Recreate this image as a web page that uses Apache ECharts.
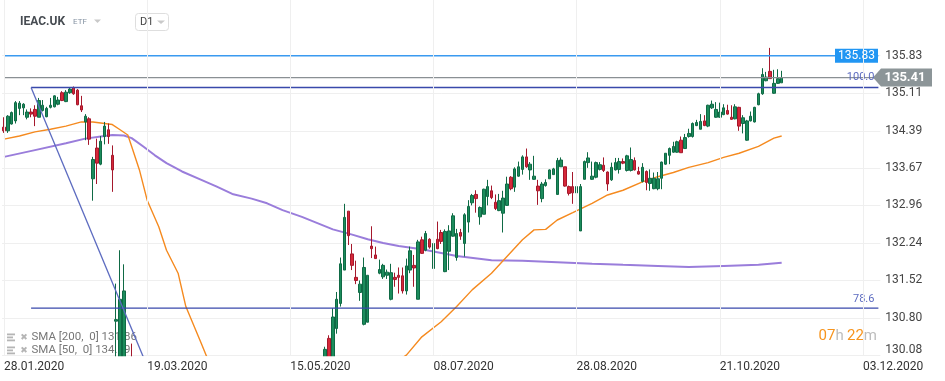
<!DOCTYPE html>
<html><head><meta charset="utf-8">
<script src="https://cdn.jsdelivr.net/npm/echarts@6/dist/echarts.min.js"></script>
<style>html,body{margin:0;padding:0;background:#fff;}#c{width:945px;height:381px;}</style>
</head><body><div id="c"></div>
<script>
// ---- data ----
const tickLabels = ['28.01.2020','19.03.2020','15.05.2020','08.07.2020','28.08.2020','21.10.2020','03.12.2020'];
const barsPerTick = 37;
const barSlots = 227;
const priceTicks = [130.08,130.80,131.52,132.24,132.96,133.67,134.39,135.11,135.83];
// [open, high, low, close]
const ohlc = [
[134.46,134.65,134.35,134.39],[134.39,134.69,134.35,134.67],[134.52,134.76,134.51,134.74],[134.58,134.96,134.53,134.93],
[134.82,134.96,134.69,134.92],[134.83,134.92,134.69,134.90],[134.65,134.80,134.61,134.75],[134.75,134.82,134.65,134.71],
[134.80,134.88,134.48,134.67],[134.65,135.02,134.65,134.97],[134.78,134.98,134.76,134.88],[134.66,134.85,134.65,134.82],
[134.84,135.02,134.82,134.88],[134.85,135.07,134.84,135.06],[134.90,135.04,134.88,134.98],[135.12,135.15,134.96,134.97],
[134.95,135.17,134.94,135.13],[135.12,135.21,135.10,135.19],[135.22,135.24,135.08,135.10],[135.17,135.19,134.88,134.89],
[134.87,135.06,134.75,134.79],[134.56,134.71,134.21,134.67],[134.62,134.65,134.12,134.23],[133.47,133.89,133.05,133.84],
[134.06,134.24,133.37,133.77],[133.75,134.29,133.73,134.19],[134.28,134.56,134.13,134.48],[134.41,134.53,134.14,134.28],
[133.92,134.11,133.22,133.64],[130.74,131.46,129.00,130.77],[129.10,132.10,128.80,131.16],[129.30,131.83,128.90,131.32],
[129.60,129.90,127.80,128.20],[129.40,130.31,126.50,127.00],[127.00,127.80,125.00,125.60],[125.60,126.20,123.50,124.00],
[124.00,124.60,121.80,122.50],[122.50,123.60,121.20,123.00],[123.00,124.20,122.40,123.80],[123.80,125.00,123.20,124.60],
[124.60,125.60,124.00,125.20],[125.20,125.90,124.50,124.90],[124.90,126.00,124.60,125.70],[125.70,126.40,125.20,126.10],
[126.10,126.60,125.50,125.80],[125.80,126.90,125.60,126.60],[126.60,127.20,126.20,126.90],[126.90,127.40,126.50,127.10],
[127.10,127.60,126.80,127.40],[127.40,127.80,126.90,127.20],[127.20,127.90,127.00,127.70],[127.70,128.20,127.40,128.00],
[128.00,128.40,127.70,127.90],[127.90,128.50,127.60,128.30],[128.30,128.80,128.00,128.60],[128.60,128.90,128.20,128.40],
[128.40,129.00,128.20,128.80],[128.80,129.20,128.50,129.00],[129.00,129.30,128.60,128.80],[128.80,129.20,128.50,129.10],
[129.10,129.40,128.80,129.20],[129.20,129.50,128.90,129.00],[129.00,129.40,128.70,129.30],[129.30,129.60,129.00,129.40],
[129.40,129.70,129.10,129.20],[129.20,129.60,128.90,129.50],[129.50,129.80,129.20,129.40],[129.40,129.70,129.10,129.60],
[129.60,129.90,129.30,129.50],[129.50,129.80,129.20,129.70],[129.70,129.90,129.30,129.40],[129.40,129.80,129.20,129.60],
[129.60,129.90,129.40,129.70],[129.70,129.90,129.40,129.50],[129.50,129.80,129.30,129.60],[129.60,129.90,129.40,129.80],
[129.80,129.95,129.50,129.60],[129.60,129.90,129.40,129.70],[129.70,129.95,129.50,129.80],[129.80,129.95,129.60,129.70],
[129.70,129.90,129.50,129.80],[129.80,129.95,129.60,129.70],[129.70,129.95,129.50,129.85],[129.85,130.25,129.70,130.20],
[130.41,130.47,129.90,130.00],[130.00,130.99,129.95,130.82],[130.60,131.30,130.50,131.16],[131.08,131.96,131.02,131.84],
[131.72,132.99,131.72,132.73],[132.85,132.85,132.20,132.38],[132.03,132.22,131.72,131.81],[131.58,131.90,131.45,131.52],
[131.29,131.52,131.13,131.45],[130.68,131.96,130.66,131.77],[130.72,131.62,130.72,131.62],[132.18,132.56,131.95,132.13],
[132.01,132.17,131.94,131.94],[131.66,131.92,131.64,131.73],[131.59,131.84,131.55,131.81],[131.62,131.73,131.55,131.68],
[131.16,131.84,131.14,131.67],[131.58,131.67,131.40,131.54],[131.62,131.77,131.27,131.58],[131.61,131.77,131.27,131.32],
[131.32,131.94,131.25,131.80],[131.72,132.17,131.66,132.09],[131.81,132.01,131.40,131.76],[131.16,132.30,131.16,132.26],
[132.30,132.36,132.03,132.04],[132.10,132.47,132.08,132.42],[132.31,132.33,132.13,132.16],[131.75,132.26,131.75,132.23],
[132.31,132.65,132.12,132.13],[132.44,132.49,132.22,132.27],[131.69,132.50,131.68,132.46],[132.08,132.58,131.72,132.47],
[132.37,132.81,132.36,132.76],[131.96,132.51,131.90,132.42],[132.44,132.51,132.30,132.37],[132.23,132.81,131.98,132.78],
[132.64,133.06,132.44,132.94],[133.01,133.18,132.96,133.15],[133.17,133.25,132.82,133.09],[132.74,132.94,132.59,132.92],
[132.79,133.28,132.79,133.27],[133.13,133.45,132.96,133.32],[133.24,133.34,133.08,133.11],[133.02,133.17,132.87,132.90],
[132.86,133.18,132.85,133.05],[132.81,133.24,132.44,133.10],[132.96,133.51,132.95,133.37],[133.50,133.52,133.25,133.28],
[133.31,133.69,133.22,133.66],[133.52,133.80,133.51,133.70],[133.65,133.92,133.55,133.89],[133.89,134.05,133.68,133.70],
[133.64,133.79,133.45,133.75],[133.46,133.91,133.45,133.52],[133.33,133.45,132.97,133.24],[133.09,133.41,133.02,133.37],
[133.34,133.46,133.32,133.40],[133.47,133.65,133.47,133.64],[133.55,133.68,133.55,133.66],[133.17,133.87,133.17,133.82],
[133.70,133.88,133.70,133.83],[133.70,133.70,133.32,133.33],[133.32,133.34,133.15,133.19],[133.32,133.60,132.99,133.20],
[133.20,133.41,132.99,133.32],[132.47,133.37,132.47,133.32],[133.46,133.82,133.46,133.80],[133.78,133.98,133.68,133.87],
[133.46,133.80,133.45,133.52],[133.50,133.80,133.48,133.78],[133.65,133.79,133.63,133.74],[133.73,133.88,133.60,133.63],
[133.60,133.61,133.24,133.37],[133.45,133.78,133.43,133.69],[133.64,133.87,133.63,133.78],[133.65,133.87,133.57,133.80],
[133.80,133.86,133.75,133.77],[133.63,133.93,133.61,133.91],[133.63,134.07,133.61,133.84],[133.82,133.88,133.63,133.64],
[133.61,133.70,133.55,133.56],[133.42,133.77,133.40,133.69],[133.61,133.63,133.25,133.40],[133.38,133.65,133.24,133.48],
[133.28,133.59,133.27,133.48],[133.28,133.60,133.25,133.47],[133.48,133.80,133.27,133.79],[133.75,133.96,133.74,133.96],
[133.92,134.07,133.75,134.05],[133.98,134.18,133.97,134.09],[133.98,134.20,133.97,134.18],[134.21,134.28,133.97,133.97],
[134.05,134.33,134.05,134.26],[134.28,134.43,134.26,134.34],[134.28,134.55,134.26,134.53],[134.49,134.60,134.48,134.55],
[134.42,134.71,134.42,134.57],[134.58,134.69,134.48,134.49],[134.48,134.89,134.46,134.88],[134.83,134.97,134.81,134.90],
[134.65,134.94,134.64,134.80],[134.65,134.93,134.64,134.75],[134.70,134.90,134.69,134.83],[134.78,134.89,134.70,134.71],
[134.65,134.88,134.60,134.61],[134.62,134.90,134.61,134.85],[134.84,134.85,134.39,134.48],[134.53,134.69,134.34,134.64],
[134.21,134.60,134.20,134.58],[134.58,134.76,134.57,134.67],[134.56,134.85,134.55,134.84],[134.89,135.12,134.88,135.10],
[135.10,135.59,135.08,135.47],[135.35,135.52,135.34,135.42],[135.53,135.98,135.39,135.39],[135.11,135.56,135.10,135.30],
[135.30,135.57,135.29,135.39],[135.31,135.54,135.31,135.41]
];
// moving averages: [bar index, value]
const sma200 = [[0,133.89],[8,134.02],[16,134.15],[21,134.24],[25,134.28],[28,134.31],[31,134.30],[33,134.25],[36,134.09],
[39,133.92],[42,133.77],[46,133.61],[51,133.45],[55,133.32],[59,133.18],[64,133.09],[68,133.00],[72,132.87],[77,132.74],
[81,132.62],[85,132.50],[90,132.40],[94,132.31],[98,132.24],[102,132.18],[108,132.12],[117,131.99],[126,131.91],
[134,131.90],[143,131.87],[152,131.84],[160,131.82],[169,131.80],[177,131.78],[186,131.80],[195,131.82],[201,131.86]];
const sma50 = [[0,134.23],[4,134.29],[8,134.37],[12,134.42],[16,134.48],[20,134.56],[23,134.56],[26,134.53],[28,134.51],
[30,134.41],[32,134.31],[33,134.09],[35,133.64],[37,133.06],[40,132.55],[42,132.10],[45,131.66],[47,131.02],[51,130.31],
[53,129.95],[56,129.60],[62,129.10],[70,128.90],[80,129.10],[90,129.50],[98,129.80],[104,130.09],[108,130.44],[113,130.73],
[117,131.02],[121,131.34],[126,131.66],[130,131.98],[134,132.30],[137,132.49],[140,132.50],[143,132.68],[147,132.82],
[152,133.00],[156,133.16],[160,133.25],[165,133.41],[169,133.51],[173,133.59],[177,133.69],[182,133.78],[186,133.88],
[190,133.96],[195,134.09],[199,134.25],[201,134.29]];
const resistanceLevel = 135.83;
const lastPrice = 135.41;
const fibStartBar = 7;
const fib100Level = 135.22;
const fib786Level = 130.99;
const fibEndPoint = [118, 115.45];
const lineEndBar = 226;
const sma200Last = '131.86';
const sma50Last = '134.29';

// ---- chart ----
const chart = echarts.init(document.getElementById('c'), null, {renderer: 'canvas'});
const categories = Array.from({length: barSlots}, (_, i) => String(i));
const FONT = 'Roboto, "Open Sans", sans-serif';
const isTick = (idx) => idx % barsPerTick === 0;

chart.setOption({
  animation: false,
  backgroundColor: '#ffffff',
  grid: {left: 2.07, width: 878.26, top: 0, height: 355.6, containLabel: false},
  xAxis: {
    type: 'category', data: categories, boundaryGap: true, z: 30,
    axisLine: {show: false}, axisTick: {show: false},
    axisLabel: {interval: (i) => isTick(i), formatter: (v, i) => tickLabels[Math.round(i / barsPerTick)] || '',
      align: 'left', margin: 5, color: '#333', fontSize: 12, fontFamily: FONT},
    splitLine: {show: true, interval: (i) => isTick(i), alignWithLabel: true, lineStyle: {color: '#efefef', width: 1}}
  },
  yAxis: {
    type: 'value', position: 'right', min: 130.08, max: 136.898, scale: true,
    axisLine: {show: false},
    axisTick: {show: false, customValues: priceTicks},
    axisLabel: {customValues: priceTicks, margin: 5, color: '#444', fontSize: 12, fontFamily: FONT,
      formatter: (v) => Math.abs(v - priceTicks[0]) < 1e-6 ? '{lo|' + v.toFixed(2) + '}' : v.toFixed(2),
      rich: {lo: {color: '#444', fontSize: 12, fontFamily: FONT, padding: [0, 0, 12, 0]}}},
    splitLine: {show: true, lineStyle: {color: '#efefef', width: 1}}
  },
  series: [
    {type: 'line', name: 'sma200', data: sma200, symbol: 'none', z: 3, clip: true,
      lineStyle: {color: '#9a7ddb', width: 2}},
    {type: 'line', name: 'sma50', data: sma50, symbol: 'none', z: 3, clip: true,
      lineStyle: {color: '#f58a1f', width: 1.4}},
    {type: 'candlestick', name: 'IEAC.UK', z: 4, clip: true, barWidth: 3,
      data: ohlc.map(r => [r[0], r[3], r[2], r[1]]),
      itemStyle: {color: '#1c8c5c', color0: '#d62839', borderColor: '#0f6a45', borderColor0: '#a5182c', borderWidth: 1}},
    {type: 'line', name: 'resistance', data: [[0, resistanceLevel], [lineEndBar, resistanceLevel]], symbol: 'none', z: 5,
      lineStyle: {color: '#3a9af0', width: 1.6}},
    {type: 'line', name: 'last', data: [[0, lastPrice], [lineEndBar, lastPrice]], symbol: 'none', z: 5,
      lineStyle: {color: '#8a9094', width: 1.4}},
    {type: 'line', name: 'fib100', data: [[fibStartBar, fib100Level], [lineEndBar, fib100Level]], symbol: 'none', z: 5,
      lineStyle: {color: '#3949ab', width: 1.4}},
    {type: 'line', name: 'fib786', data: [[fibStartBar, fib786Level], [lineEndBar, fib786Level]], symbol: 'none', z: 5,
      lineStyle: {color: '#3949ab', width: 1.4}},
    {type: 'line', name: 'fibDiag', data: [[fibStartBar, fib100Level], fibEndPoint], symbol: 'none', z: 5, clip: true,
      lineStyle: {color: '#5c6bc0', width: 1.3}}
  ]
});

const yPx = (v) => chart.convertToPixel({yAxisIndex: 0}, v);
const xPx = (i) => chart.convertToPixel({xAxisIndex: 0}, i);
const yRes = yPx(resistanceLevel), yLast = yPx(lastPrice), yF100 = yPx(fib100Level), yF786 = yPx(fib786Level);
const yBottom = yPx(priceTicks[0]);
const xEnd = xPx(lineEndBar);

const g = [];
// mask below the plot so candles overflowing the bottom are hidden (axis labels are drawn above it)
g.push({type: 'rect', z: 20, shape: {x: 0, y: yBottom + 0.6, width: 945, height: 381 - yBottom}, style: {fill: '#fff'}});
// header
g.push({type: 'rect', z: 20, shape: {x: 133, y: 0, width: 38, height: 33}, style: {fill: '#fff'}});
g.push({type: 'text', z: 21, x: 20, y: 22, style: {text: 'IEAC.UK', fill: '#474c52', font: 'bold 12px ' + FONT, verticalAlign: 'middle'}});
g.push({type: 'text', z: 21, x: 73, y: 22, style: {text: 'ETF', fill: '#8593a3', font: '8px ' + FONT, verticalAlign: 'middle'}});
g.push({type: 'polygon', z: 21, shape: {points: [[94, 19.5], [101, 19.5], [97.5, 23]]}, style: {fill: '#c9c9c9'}});
g.push({type: 'rect', z: 21, shape: {x: 135.5, y: 13.5, width: 33, height: 17, r: 3}, style: {fill: '#fff', stroke: '#dedede', lineWidth: 1}});
g.push({type: 'text', z: 22, x: 140, y: 22.5, style: {text: 'D1', fill: '#444', font: '11px ' + FONT, verticalAlign: 'middle'}});
g.push({type: 'polygon', z: 22, shape: {points: [[157, 20.5], [165, 20.5], [161, 24]]}, style: {fill: '#c9c9c9'}});
// resistance tag
g.push({type: 'rect', z: 20, shape: {x: 835, y: yRes - 7, width: 43, height: 14}, style: {fill: '#2196f3'}});
g.push({type: 'text', z: 21, x: 856.5, y: yRes, style: {text: resistanceLevel.toFixed(2), fill: '#fff', font: '12px ' + FONT, align: 'center', verticalAlign: 'middle'}});
// last price tag
g.push({type: 'polygon', z: 20, shape: {points: [[873, yLast], [881, yLast - 9], [932, yLast - 9], [932, yLast + 9], [881, yLast + 9]]}, style: {fill: '#8c9598'}});
g.push({type: 'text', z: 21, x: 905, y: yLast + 0.5, style: {text: lastPrice.toFixed(2), fill: '#fff', font: 'bold 13px ' + FONT, align: 'center', verticalAlign: 'middle'}});
// fib labels
g.push({type: 'text', z: 21, x: xEnd - 4, y: yF100 - 10, style: {text: '100.0', fill: '#5c6bc0', font: '11px ' + FONT, align: 'right', verticalAlign: 'middle'}});
g.push({type: 'text', z: 21, x: xEnd - 4, y: yF786 - 9, style: {text: '78.6', fill: '#5c6bc0', font: '11px ' + FONT, align: 'right', verticalAlign: 'middle'}});
// legend (behind candles)
const legendRows = [['SMA [200,  0] ' + sma200Last, 337.5], ['SMA [50,  0] ' + sma50Last, 350.5]];
legendRows.forEach(([t, y]) => {
  [[-3, 8], [0, 6], [3, 8]].forEach(([dy, w]) => g.push({type: 'rect', z: 0, shape: {x: 7, y: y + dy - 1, width: w, height: 1.8}, style: {fill: '#b5b5b5'}}));
  g.push({type: 'text', z: 0, x: 24, y: y, style: {text: '\u2716', fill: '#b5b5b5', font: '9px "DejaVu Sans"', align: 'center', verticalAlign: 'middle'}});
  g.push({type: 'text', z: 0, x: 31.5, y: y, style: {text: t, fill: '#777', font: '11.5px ' + FONT, verticalAlign: 'middle'}});
});
// countdown
g.push({type: 'text', z: 21, x: 877, y: 336, style: {text: '{o|07}{g|h} {o|22}{g|m}', align: 'right', verticalAlign: 'middle',
  rich: {o: {fill: '#f7941d', font: '15px ' + FONT}, g: {fill: '#bdbdbd', font: '15px ' + FONT}}}});
chart.setOption({graphic: g});
</script></body></html>
